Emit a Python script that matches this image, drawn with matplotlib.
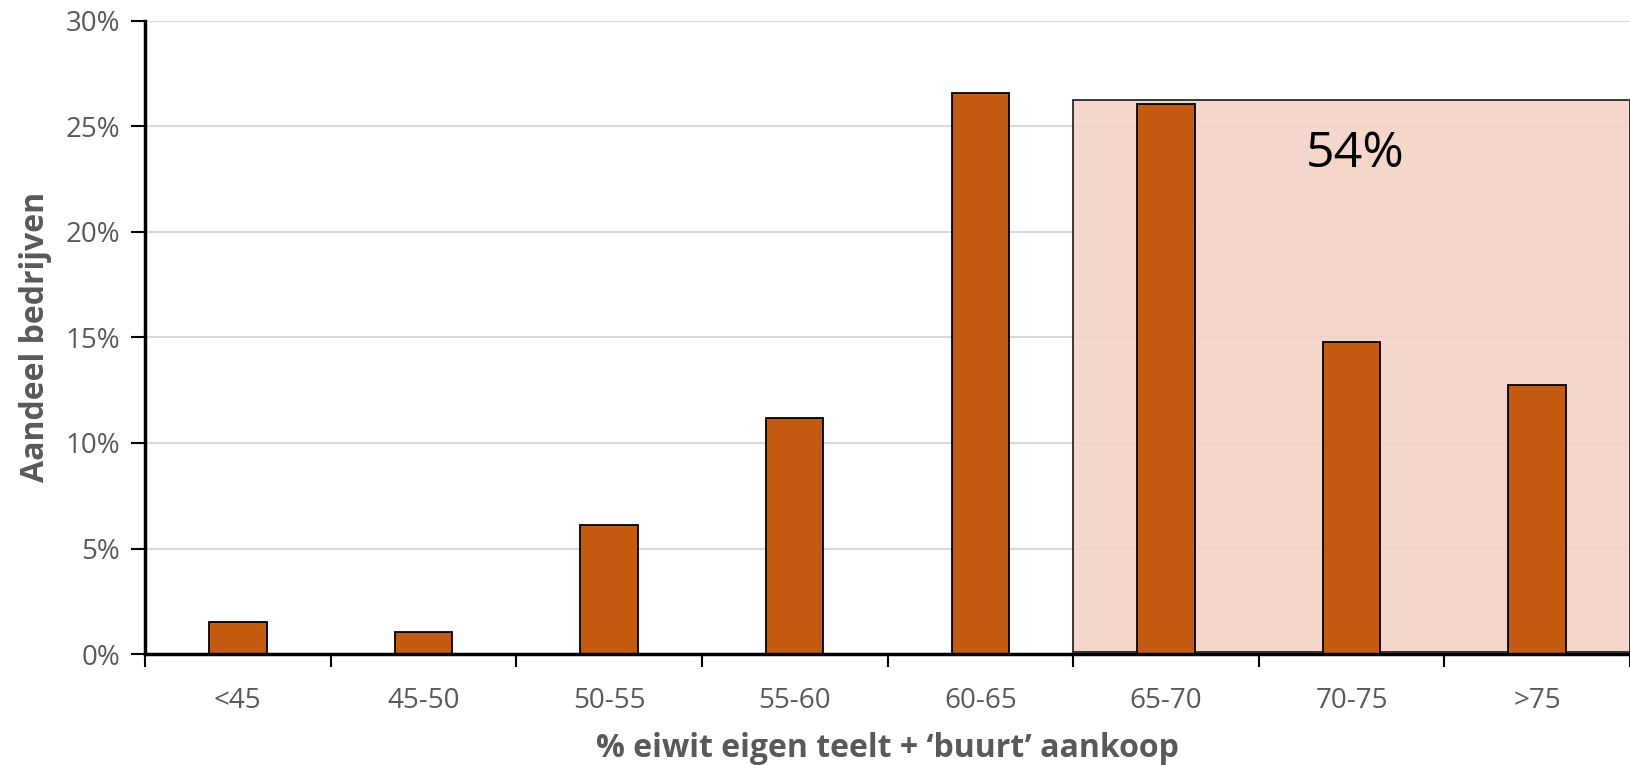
import matplotlib.pyplot as plt
import numpy as np

plt.rcParams['font.family'] = ['Open Sans', 'DejaVu Sans']

categories = ['<45', '45-50', '50-55', '55-60', '60-65', '65-70', '70-75', '>75']
shares = [1.53, 1.03, 6.1, 11.2, 26.55, 26.06, 14.8, 12.76]
yticks = [0, 5, 10, 15, 20, 25, 30]
highlight_start = 5
highlight_label = '54%'

grey = '#595959'
x = np.arange(len(categories))

fig = plt.figure(figsize=(16.3, 7.65), dpi=100)
ax = fig.add_axes([0.089, 0.145, 0.911, 0.828])

# highlighted region (last three categories)
ax.bar(highlight_start - 0.5, 26.15, width=len(categories) - highlight_start, align='edge',
       bottom=0.1, color='#F4D2C5', alpha=0.9, edgecolor='black', linewidth=1.2, zorder=1.5)

ax.bar(x, shares, width=0.31, color='#C55A11', edgecolor='black', linewidth=1.3, zorder=3)

ax.text(6.02, 23.65, highlight_label, fontsize=36, color='black', ha='center', va='center', zorder=4)

ax.set_xlim(-0.5, len(categories) - 0.5)
ax.set_ylim(0, 30)
ax.set_yticks(yticks)
ax.set_yticklabels([f'{v}%' for v in yticks])
ax.set_xticks(x)
ax.set_xticklabels(categories)
ax.set_xticks(np.arange(-0.5, len(categories), 1), minor=True)
ax.tick_params(axis='x', which='major', length=0, pad=24, labelsize=20, labelcolor=grey)
ax.tick_params(axis='x', which='minor', length=9, width=1.5, direction='out', color='black')
ax.tick_params(axis='y', length=10, width=1.5, labelsize=20, labelcolor=grey, pad=8)

ax.yaxis.grid(True, color='#D9D9D9', linewidth=1.5, zorder=0)
ax.set_axisbelow(True)
for s in ['top', 'right']:
    ax.spines[s].set_visible(False)
for s in ['left', 'bottom']:
    ax.spines[s].set_linewidth(2.5)
    ax.spines[s].set_zorder(5)

ax.set_xlabel('% eiwit eigen teelt + \u2018buurt\u2019 aankoop', fontsize=23, fontweight='bold',
              color=grey, labelpad=12)
ax.set_ylabel('Aandeel bedrijven', fontsize=23, fontweight='bold', color=grey, labelpad=10)

plt.savefig('out.png')
